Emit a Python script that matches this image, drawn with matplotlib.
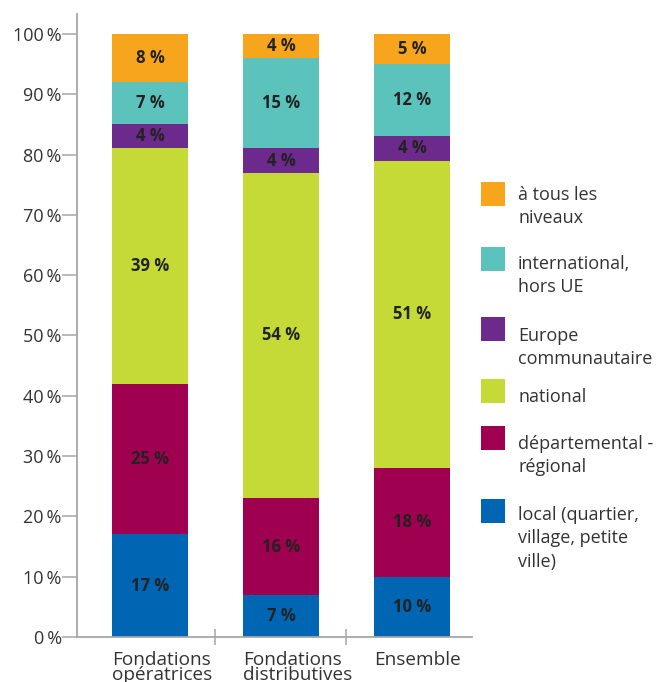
import matplotlib.pyplot as plt
from matplotlib.patches import Rectangle
import numpy as np

plt.rcParams['font.family'] = ['Open Sans', 'DejaVu Sans']

categories = ["Fondations\nopératrices", "Fondations\ndistributives", "Ensemble"]
levels = ["local (quartier,\nvillage, petite\nville)", "départemental -\nrégional", "national",
          "Europe\ncommunautaire", "international,\nhors UE", "à tous les\nniveaux"]
colors = ["#0065B3", "#A00050", "#C5D937", "#6C2A8C", "#5BC3BB", "#F7A51C"]

local = [17, 7, 10]
regional = [25, 16, 18]
national = [39, 54, 51]
europe = [4, 4, 4]
international = [7, 15, 12]
all_levels = [8, 4, 5]
series = [local, regional, national, europe, international, all_levels]

W, H = 665, 682
fig = plt.figure(figsize=(W / 100, H / 100), dpi=100)
ax = fig.add_axes([77 / W, 45 / H, 395 / W, 623 / H])

x = np.arange(len(categories))
width = 0.58
bottom = np.zeros(len(categories))
for vals, col in zip(series, colors):
    vals = np.array(vals, dtype=float)
    ax.bar(x, vals, width, bottom=bottom, color=col, linewidth=0)
    for xi, b, v in zip(x, bottom, vals):
        ax.text(xi, b + v / 2, f"{int(v)} %", ha='center', va='center',
                fontsize=12, fontweight='bold', color='#222222')
    bottom += vals

ax.set_xlim(-0.557, 2.458)
ax.set_ylim(0, 103.3)

grey = '#a6a6a6'
for s in ['top', 'right']:
    ax.spines[s].set_visible(False)
for s in ['left', 'bottom']:
    ax.spines[s].set_color(grey)
    ax.spines[s].set_linewidth(1.3)

ax.set_yticks(np.arange(0, 101, 10))
ax.set_yticklabels([f"{v}\u2009%" for v in range(0, 101, 10)])
ax.tick_params(axis='y', direction='out', length=10.5, width=1.1, color=grey,
               pad=0.5, labelsize=13, labelcolor='#333333')

ax.set_xticks([0.5, 1.5])
ax.set_xticklabels([])
ax.tick_params(axis='x', which='major', direction='inout', length=12, width=1.1, color=grey)
# category labels are left-aligned on the bar's left edge
ax.set_xticks(x - width / 2, minor=True)
ax.set_xticklabels(categories, minor=True, fontsize=13.7, color='#333333',
                   linespacing=0.78, ha='left')
ax.tick_params(axis='x', which='minor', length=0, pad=10)

# legend, top entry first: square tops and text tops in pixels
square_tops = [182, 247, 317, 379, 426, 499]
text_tops = [186, 255, 327, 388, 435, 506]
for lab, col, top, ttop in zip(levels[::-1], colors[::-1], square_tops, text_tops):
    fig.add_artist(Rectangle((481 / W, 1 - (top + 24) / H), 24 / W, 24 / H,
                             transform=fig.transFigure, color=col, linewidth=0))
    fig.text(518 / W, 1 - ttop / H, lab, ha='left', va='top', fontsize=13,
             color='#333333', linespacing=1.38)

fig.savefig("out.png", dpi=100)
